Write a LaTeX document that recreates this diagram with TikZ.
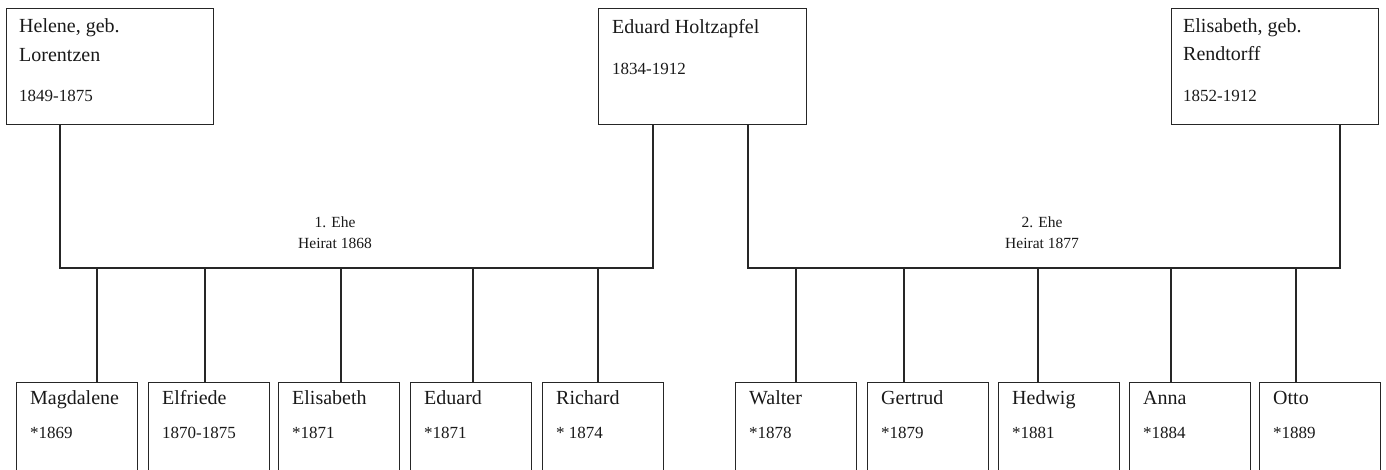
\documentclass[tikz,border=0pt]{standalone}
\usepackage{fontspec}
\setmainfont{Liberation Serif}
\begin{document}
\begin{tikzpicture}[x=1pt,y=-1pt,
  line/.style={draw=black!85, line width=1.3pt},
  pbox/.style={draw=black!85, line width=1.3pt, anchor=north west, inner sep=0pt, minimum height=116pt},
  cbox/.style={draw=black!85, line width=1.3pt, anchor=north west, inner sep=0pt, minimum width=121pt, minimum height=110pt},
  nametxt/.style={anchor=base west, inner sep=0pt, font=\fontsize{20}{22}\selectfont, text=black!90},
  datetxt/.style={anchor=base west, inner sep=0pt, font=\fontsize{17}{20}\selectfont, text=black!90},
  ehetxt/.style={anchor=base, inner sep=0pt, font=\fontsize{15.5}{20}\selectfont, text=black!90}]
\useasboundingbox (0,0) rectangle (1386,470);
\clip (0,0) rectangle (1386,470);
% parents
\node[pbox, minimum width=207pt] (helene) at (6,8) {};
\node[pbox, minimum width=208pt] (eduard) at (598,8) {};
\node[pbox, minimum width=207pt] (elis) at (1171,8) {};
\node[nametxt] (t1) at (19,33) {Helene, geb.};
\node[nametxt] (t2) at (19,62) {Lorentzen};
\node[datetxt] (t3) at (19,102) {1849-1875};
\node[nametxt] (t4) at (612,34) {Eduard Holtzapfel};
\node[datetxt] (t5) at (612,75) {1834-1912};
\node[nametxt] (t6) at (1183,33) {Elisabeth, geb.};
\node[nametxt] (t7) at (1183,61) {Rendtorff};
\node[datetxt] (t8) at (1183,102) {1852-1912};
% marriage bars
\coordinate (a1) at (60,268);
\coordinate (a2) at (653,268);
\coordinate (b1) at (748,268);
\coordinate (b2) at (1340,268);
\draw[line] (helene.south -| a1) -- (a1) -- (a2) -- (eduard.south -| a2);
\draw[line] (eduard.south -| b1) -- (b1) -- (b2) -- (elis.south -| b2);
\node[ehetxt] (e1a) at (335,228) {1. Ehe};
\node[ehetxt] (e1b) at (335,249) {Heirat 1868};
\node[ehetxt] (e2a) at (1042,228) {2. Ehe};
\node[ehetxt] (e2b) at (1042,249) {Heirat 1877};
% children
\foreach \n/\bx/\dx/\nm/\dt in {
  c1/16/97/Magdalene/*1869,
  c2/148/205/Elfriede/1870-1875,
  c3/278/341/Elisabeth/*1871,
  c4/410/473/Eduard/*1871,
  c5/542/598/Richard/* 1874,
  c6/735/796/Walter/*1878,
  c7/867/904/Gertrud/*1879,
  c8/998/1038/Hedwig/*1881,
  c9/1129/1171/Anna/*1884,
  c10/1259/1296/Otto/*1889}{
  \node[cbox] (\n) at (\bx,382) {};
  \coordinate (d\n) at (\dx,268);
  \draw[line] (d\n) -- (d\n |- \n.north);
  \node[nametxt] (\n name) at (\bx+14,404) {\nm};
  \node[datetxt] (\n date) at (\bx+14,438) {\dt};
}
\end{tikzpicture}
\end{document}
